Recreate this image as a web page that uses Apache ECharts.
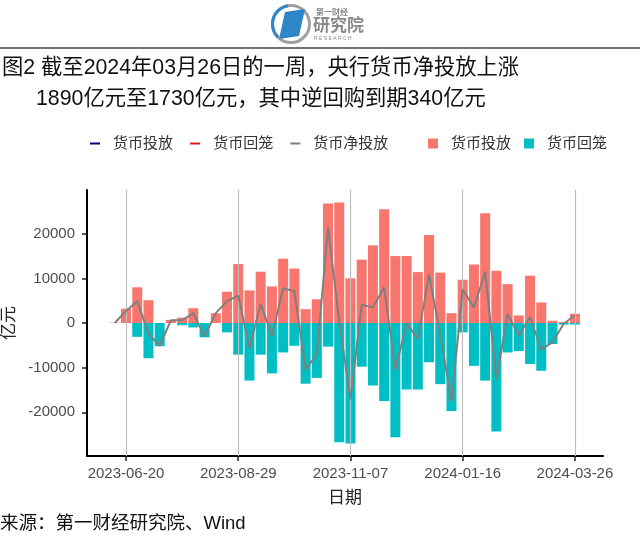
<!DOCTYPE html>
<html><head><meta charset="utf-8">
<script src="https://cdn.jsdelivr.net/npm/echarts@6/dist/echarts.min.js"></script>
<style>html,body{margin:0;padding:0;background:#fff}#c{width:640px;height:546px}</style>
</head><body><div id="c"></div>
<script>
const dates = ['2023-06-13','2023-06-20','2023-06-27','2023-07-04','2023-07-11','2023-07-18','2023-07-25','2023-08-01','2023-08-08','2023-08-15','2023-08-22','2023-08-29','2023-09-05','2023-09-12','2023-09-19','2023-09-26','2023-10-03','2023-10-10','2023-10-17','2023-10-24','2023-10-31','2023-11-07','2023-11-14','2023-11-21','2023-11-28','2023-12-05','2023-12-12','2023-12-19','2023-12-26','2024-01-02','2024-01-09','2024-01-16','2024-01-23','2024-01-30','2024-02-06','2024-02-13','2024-02-20','2024-02-27','2024-03-05','2024-03-12','2024-03-19','2024-03-26'];
const injection = [100,3200,8000,5100,0,700,1200,3300,0,2200,7000,13200,7300,11500,8200,14400,12200,3100,5300,26800,27000,10000,14200,17400,25500,15000,15000,11400,19700,11300,2200,9700,13100,24600,11700,8700,1700,10600,4600,500,200,2070];
const withdrawal = [0,0,-3100,-7900,-5200,0,-500,-1000,-3200,0,-2100,-7100,-12900,-7100,-11300,-6600,-5100,-13600,-12300,-5300,-26700,-27000,-9800,-14000,-17500,-25600,-14900,-14900,-8800,-13700,-19700,-2100,-9600,-12900,-24300,-6600,-6300,-9200,-10700,-4700,-360,-340];
const netInjection = [0,2700,4900,-2400,-5100,600,600,2200,-3000,2200,4900,6100,-5600,4300,-2900,7800,7100,-10400,-7100,21400,300,-17100,4100,3500,8000,-10500,-100,-3500,10800,-2600,-17600,7500,3500,11500,-12600,2000,-2800,1400,-6000,-4300,-160,1730];
const xTickLabels = ['2023-06-20','2023-08-29','2023-11-07','2024-01-16','2024-03-26'];
const yTickValues = [-20000,-10000,0,10000,20000];

const ts = d => Date.parse(d);
const fmt = v => new Date(v).toISOString().slice(0,10);
const xTicks = xTickLabels.map(ts);
const CJK = '"Liberation Sans", "Noto Sans CJK SC", sans-serif';

const chart = echarts.init(document.getElementById('c'), null, {renderer:'canvas'});
chart.setOption({
  animation:false,
  backgroundColor:'#fff',
  grid:{left:87,right:37,top:190,bottom:90,containLabel:false,outerBoundsMode:'none'},
  legend:[
    {left:85, top:131, icon:'rect', itemWidth:10, itemHeight:2, itemGap:13,
     textStyle:{fontSize:15, color:'#333', fontFamily:CJK, padding:[0,0,0,8]},
     data:['货币投放 ','货币回笼 ','货币净投放']},
    {left:423, top:131, icon:'rect', itemWidth:10, itemHeight:10, itemGap:13,
     textStyle:{fontSize:15, color:'#333', fontFamily:CJK, padding:[0,0,0,8]},
     data:['货币投放','货币回笼']}
  ],
  xAxis:{
    type:'value',
    min:ts('2023-05-26T16:00:00Z'), max:ts('2024-04-12T12:00:00Z'),
    name:'日期', nameLocation:'middle', nameGap:34,
    nameTextStyle:{fontSize:17, color:'#222', fontFamily:CJK},
    axisLine:{show:true, onZero:false, lineStyle:{color:'#000', width:2}},
    axisTick:{show:true, customValues:xTicks, length:5, lineStyle:{color:'#222', width:1.5}},
    axisLabel:{customValues:xTicks, formatter:v=>fmt(v), fontSize:15, color:'#4D4D4D', margin:10, fontFamily:CJK},
    splitLine:{show:false}
  },
  yAxis:{
    type:'value', min:-29800, max:29800,
    name:'亿元', nameLocation:'middle', nameGap:59, nameRotate:90,
    nameTextStyle:{fontSize:17, color:'#222', fontFamily:CJK},
    axisLine:{show:true, lineStyle:{color:'#000', width:2}},
    axisTick:{show:true, customValues:yTickValues, length:5, lineStyle:{color:'#222', width:1.5}},
    axisLabel:{customValues:yTickValues, formatter:v=>String(v), fontSize:15, color:'#4D4D4D', margin:12, fontFamily:CJK},
    splitLine:{show:false}
  },
  series:[
    {name:'_grid', type:'line', data:[], z:0, silent:true,
     markLine:{silent:true, symbol:['none','none'], label:{show:false},
       lineStyle:{color:'#BDBDBD', width:1.2, type:'solid'},
       data:xTicks.map(t=>({xAxis:t}))}},
    {name:'货币投放', type:'bar', barWidth:10, barGap:'-100%', itemStyle:{color:'#F8766D'},
     data:dates.map((d,i)=>[ts(d), injection[i]])},
    {name:'货币回笼', type:'bar', barWidth:10, barGap:'-100%', itemStyle:{color:'#00BFC4'},
     data:dates.map((d,i)=>[ts(d), withdrawal[i]])},
    {name:'货币净投放', type:'line', symbol:'none', z:5, color:'#7F7F7F',
     lineStyle:{color:'#7F7F7F', width:2},
     data:dates.map((d,i)=>[ts(d), netInjection[i]])},
    {name:'货币投放 ', type:'line', symbol:'none', color:'#00008B', data:[]},
    {name:'货币回笼 ', type:'line', symbol:'none', color:'#E41A1C', data:[]}
  ],
  graphic:[
    {type:'line', shape:{x1:0,y1:48,x2:640,y2:48}, style:{stroke:'#444', lineWidth:1.5}},
    {type:'arc', shape:{cx:291, cy:24, r:18.5, startAngle:0, endAngle:Math.PI*2}, style:{stroke:'#A0A0A0', lineWidth:3, fill:null}},
    {type:'arc', shape:{cx:291, cy:24, r:18.5, startAngle:Math.PI*0.75, endAngle:Math.PI*1.45}, style:{stroke:'#2E86C8', lineWidth:3, fill:null}},
    {type:'polygon', shape:{points:[[285,12],[305,9],[299,36],[279,39]]}, style:{fill:'#2E86C8'}},
    {type:'text', left:316, top:8, style:{text:'第一财经', font:'8px "Noto Sans CJK SC"', fill:'#555'}},
    {type:'text', left:313, top:16, style:{text:'研究院', font:'bold 17px "Noto Sans CJK SC"', fill:'#8A8A8A'}},
    {type:'text', left:314, top:36, style:{text:'R E S E A R C H', font:'5px "Liberation Sans"', fill:'#888'}},
    {type:'text', left:2, top:57, style:{text:'图2 截至2024年03月26日的一周，央行货币净投放上涨', font:'21.3px "Liberation Sans", "Noto Sans CJK SC"', fill:'#111'}},
    {type:'text', left:36, top:88, style:{text:'1890亿元至1730亿元，其中逆回购到期340亿元', font:'21.3px "Liberation Sans", "Noto Sans CJK SC"', fill:'#111'}},
    {type:'text', left:0, top:515, style:{text:'来源：第一财经研究院、Wind', font:'18.5px "Liberation Sans", "Noto Sans CJK SC"', fill:'#111'}}
  ]
});
</script></body></html>
